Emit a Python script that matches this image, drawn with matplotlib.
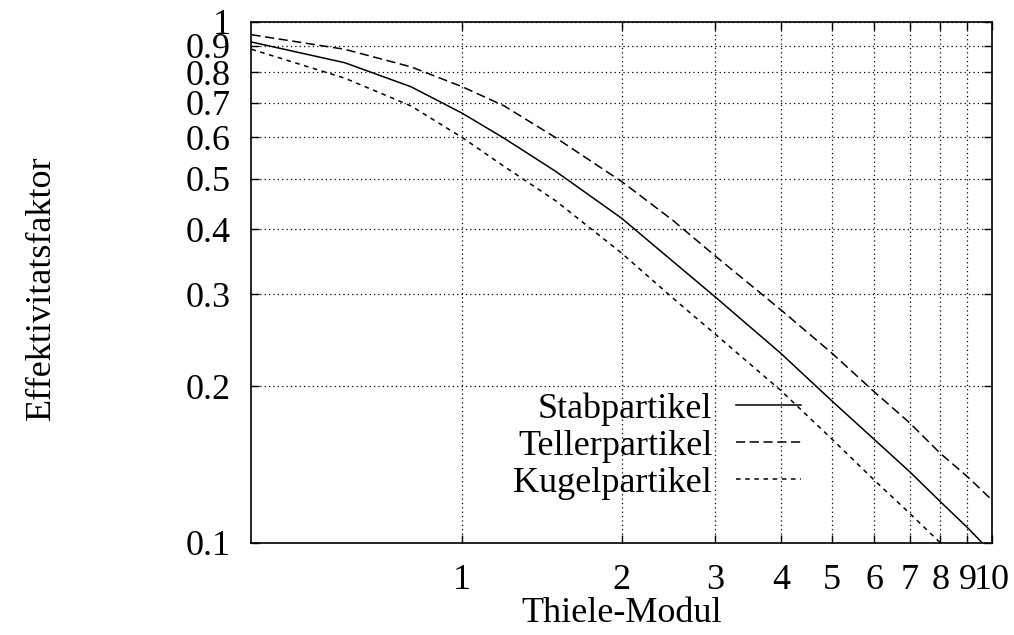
import matplotlib
matplotlib.use("Agg")
import matplotlib.pyplot as plt
from matplotlib.ticker import NullLocator

# ---------------------------
# Daten
# ---------------------------
stab_x = [0.4, 0.6, 0.8, 1.0, 1.2, 1.5, 2.0, 2.5, 3.0, 4.0, 5.0, 6.0, 7.0, 8.0, 9.0, 9.6]
stab_y = [0.915, 0.835, 0.751, 0.668, 0.598, 0.517, 0.420, 0.347, 0.297, 0.231, 0.187, 0.158, 0.137, 0.120, 0.107, 0.100]

teller_x = [0.4, 0.6, 0.8, 1.0, 1.2, 1.5, 2.0, 2.5, 3.0, 4.0, 5.0, 6.0, 7.0, 8.0, 9.0, 10.0]
teller_y = [0.945, 0.886, 0.82, 0.751, 0.69, 0.60, 0.494, 0.416, 0.356, 0.280, 0.231, 0.195, 0.170, 0.1485, 0.134, 0.121]

kugel_x = [0.4, 0.6, 0.8, 1.0, 1.2, 1.5, 2.0, 2.5, 3.0, 4.0, 5.0, 6.0, 7.0, 8.0]
kugel_y = [0.886, 0.78, 0.69, 0.600, 0.528, 0.454, 0.360, 0.295, 0.252, 0.196, 0.158, 0.132, 0.114, 0.100]

x_ticks = [1, 2, 3, 4, 5, 6, 7, 8, 9, 10]
x_labels = ["1", "2", "3", "4", "5", "6", "7", "8", "9", "10"]
y_ticks = [0.1, 0.2, 0.3, 0.4, 0.5, 0.6, 0.7, 0.8, 0.9, 1.0]
y_labels = ["0.1", "0.2", "0.3", "0.4", "0.5", "0.6", "0.7", "0.8", "0.9", "1"]

# ---------------------------
# Grafik
# ---------------------------
plt.rcParams["font.family"] = ["Liberation Serif", "DejaVu Serif"]
fs = 26

fig = plt.figure(figsize=(10.14, 6.35), dpi=100)
ax = fig.add_axes([0.248, 0.145, 0.730, 0.8205])

ax.plot(stab_x, stab_y, color="black", lw=1.1, ls="-", label="Stabpartikel")
ax.plot(teller_x, teller_y, color="black", lw=1.1, ls=(0, (6, 3)), label="Tellerpartikel")
ax.plot(kugel_x, kugel_y, color="black", lw=1.1, ls=(0, (3, 3)), label="Kugelpartikel")

ax.set_xscale("log")
ax.set_yscale("log")
ax.set_xlim(0.4, 10)
ax.set_ylim(0.1, 1.0)

ax.set_xticks(x_ticks)
ax.set_xticklabels(x_labels)
ax.set_yticks(y_ticks)
ax.set_yticklabels(y_labels)
ax.xaxis.set_minor_locator(NullLocator())
ax.yaxis.set_minor_locator(NullLocator())

ax.tick_params(direction="in", length=6, width=1, top=True, right=True,
               pad=15, labelsize=fs)
ax.grid(True, color="black", ls=(0, (1, 2.5)), lw=0.9)

for s in ax.spines.values():
    s.set_linewidth(1.2)

ax.set_xlabel("Thiele-Modul", fontsize=fs, labelpad=0)
ax.set_ylabel("Effektivitatsfaktor", fontsize=fs)
ax.yaxis.set_label_coords(-0.262, 0.49)

ax.legend(loc="center right", bbox_to_anchor=(0.743, 0.186), frameon=False,
          markerfirst=False, handlelength=1.8, handletextpad=0.67,
          labelspacing=0.1, borderpad=0, borderaxespad=0, fontsize=fs)

fig.savefig("out.png", dpi=100)
